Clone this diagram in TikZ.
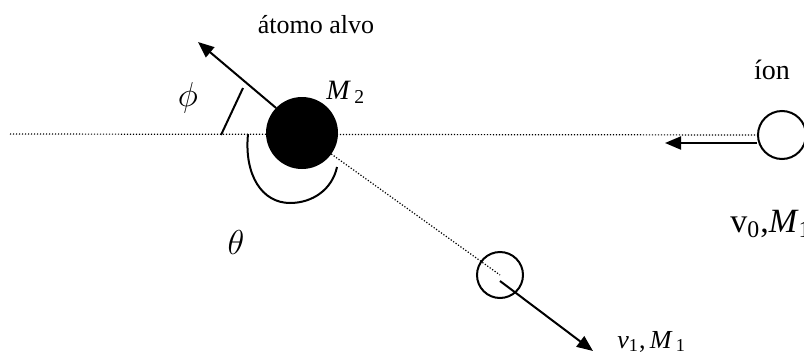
\documentclass[tikz,border=0pt]{standalone}
\usepackage{fontspec}
\setmainfont{Liberation Serif}
\usetikzlibrary{arrows.meta}
\newcommand{\sbs}[2]{#1\textsubscript{#2}}
\tikzset{
  ball/.style={circle, draw=black, line width=1pt, inner sep=0pt},
  dotline/.style={line width=0.6pt, dash pattern=on 0.6pt off 0.9pt},
  solidline/.style={line width=1pt},
  arr/.style={line width=1pt, -{Triangle[length=8pt, width=6.5pt]}},
  lbl/.style={inner sep=0pt, font=\fontsize{13}{15}\selectfont},
}
\begin{document}
\begin{tikzpicture}[x=0.5pt, y=-0.5pt]
\useasboundingbox (0,0) rectangle (804,354);
% nodes
\coordinate (L) at (10,134);
\node[ball, minimum size=24pt] (ion) at (782,135) {};
\node[ball, minimum size=23pt] (p1) at (500,275) {};
% dotted lines
\draw[dotline] (L) -- (ion.west);
\node[ball, fill=black, minimum size=35pt] (M2) at (302,133) {};
\draw[dotline] (M2) -- (p1.center);
% arrows
\coordinate (tipA) at (198,42);
\draw[arr] (M2.136) -- (tipA);
\coordinate (ionS) at (757,143);
\coordinate (tipB) at (665,143);
\draw[arr] (ionS) -- (tipB);
\coordinate (p1S) at (500,281);
\coordinate (tipC) at (593,351);
\draw[arr] (p1S) -- (tipC);
% phi line
\coordinate (phiA) at (221,135);
\coordinate (phiB) at (243,88);
\draw[solidline] (phiA) -- (phiB);
% theta arc
\coordinate (thA) at (248,134);
\coordinate (thM) at (290,203);
\coordinate (thB) at (337,167);
\draw[solidline] (thA) .. controls (244,175) and (262,203) .. (thM)
  .. controls (312,203) and (332,190) .. (thB);
% labels
\node[lbl, anchor=base] (t1) at (316,33) {átomo alvo};
\node[lbl, anchor=base, font=\fontsize{14}{16}\selectfont] (t2) at (772,79) {íon};
\node[lbl, font=\fontsize{17}{19}\selectfont] (t3) at (188,98) {$\phi$};
\node[lbl, font=\fontsize{17}{19}\selectfont] (t4) at (236,242) {$\theta$};
\node[lbl, anchor=base west, font=\fontsize{14}{16}\selectfont] (t5) at (326,99) {\sbs{\textit{M}}{\,2}};
\node[lbl, anchor=base west, font=\fontsize{17}{20}\selectfont] (t6) at (730,232) {\sbs{v}{0},\sbs{\textit{M}}{1}};
\node[lbl, anchor=base west, font=\fontsize{13}{15}\selectfont] (t7) at (617,348) {\sbs{\textit{v}}{1},\,\sbs{\textit{M}}{\,1}};
\end{tikzpicture}
\end{document}
